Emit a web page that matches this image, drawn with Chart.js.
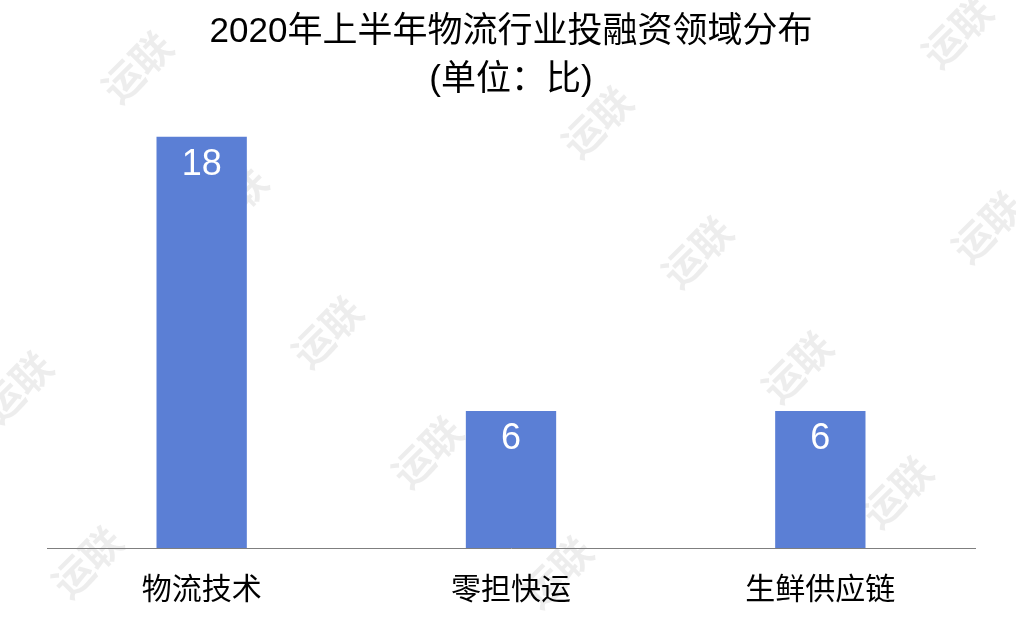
<!DOCTYPE html>
<html>
<head>
<meta charset="utf-8">
<script src="https://cdn.jsdelivr.net/npm/chart.js@4"></script>
<style>
  html, body { margin: 0; padding: 0; background: #fff; }
  #wrap { width: 1016px; height: 620px; }
</style>
</head>
<body>
<div id="wrap"><canvas id="chart" width="1016" height="620"></canvas></div>
<script>
const titleLines = ["2020年上半年物流行业投融资领域分布", "(单位：比)"];
const categories = ["物流技术", "零担快运", "生鲜供应链"];
const dealCounts = [18, 6, 6];
const barColor = "#5b7fd5";
const fontFamily = '"Liberation Sans", "Noto Sans CJK SC", sans-serif';

// faint "运联" watermark behind the chart
const watermark = {
  id: "watermark",
  beforeDraw(chart) {
    const ctx = chart.ctx;
    const spots = [[140, 70], [600, 125], [960, 35], [235, 205], [700, 255],
                   [330, 335], [800, 370], [20, 390], [430, 455], [900, 495],
                   [90, 565], [560, 575], [990, 230]];
    ctx.save();
    ctx.fillStyle = "rgba(0,0,0,0.07)";
    ctx.font = "bold 40px " + fontFamily;
    ctx.textAlign = "center";
    ctx.textBaseline = "middle";
    for (const [x, y] of spots) {
      ctx.save();
      ctx.translate(x, y);
      ctx.rotate(-Math.PI / 4);
      ctx.fillText("运联", 0, 0);
      ctx.restore();
    }
    ctx.restore();
  }
};

// value labels drawn inside the top of each bar
const valueLabels = {
  id: "valueLabels",
  afterDatasetsDraw(chart) {
    const ctx = chart.ctx;
    const meta = chart.getDatasetMeta(0);
    ctx.save();
    ctx.fillStyle = "#ffffff";
    ctx.font = "36px " + fontFamily;
    ctx.textAlign = "center";
    ctx.textBaseline = "alphabetic";
    meta.data.forEach((bar, i) => {
      ctx.fillText(String(dealCounts[i]), bar.x, bar.y + 38);
    });
    ctx.restore();
  }
};

new Chart("chart", {
  type: "bar",
  data: {
    labels: categories,
    datasets: [{
      data: dealCounts,
      backgroundColor: barColor,
      borderWidth: 0,
      categoryPercentage: 1,
      barPercentage: 0.292
    }]
  },
  options: {
    responsive: false,
    animation: false,
    layout: { padding: { left: 47, right: 41, top: 0, bottom: -14 } },
    plugins: {
      legend: { display: false },
      tooltip: { enabled: false },
      title: {
        display: true,
        text: titleLines,
        color: "#000",
        font: { family: fontFamily, size: 35, weight: "normal", lineHeight: "48px" },
        padding: { top: 8, bottom: 10 }
      }
    },
    scales: {
      x: {
        grid: { display: false, drawTicks: false },
        border: { display: true, color: "#7f7f7f", width: 1 },
        ticks: {
          color: "#000",
          padding: 25,
          font: { family: fontFamily, size: 30 }
        }
      },
      y: {
        display: false,
        min: 0,
        max: 19
      }
    }
  },
  plugins: [watermark, valueLabels]
});
</script>
</body>
</html>
